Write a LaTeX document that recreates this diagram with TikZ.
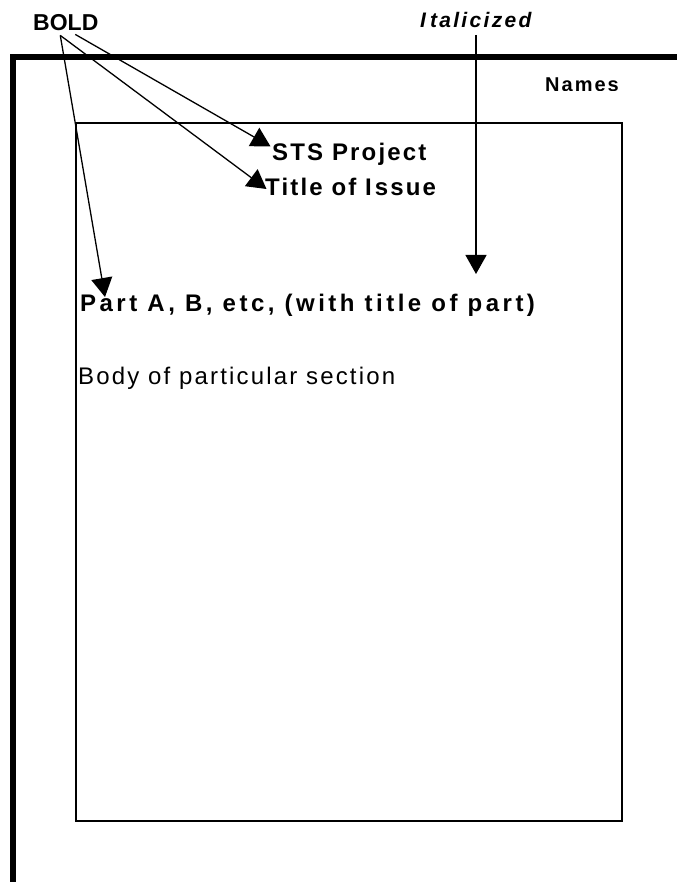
\documentclass[tikz,border=0pt]{standalone}
\usepackage{fontspec}
\setmainfont{Liberation Sans}
\newfontfamily\spacedfont[LetterSpace=9]{Liberation Sans}
\newfontfamily\partfont[LetterSpace=14.5]{Liberation Sans}
\newfontfamily\labelfont[LetterSpace=11]{Liberation Sans}
\newfontfamily\namesfont[LetterSpace=10]{Liberation Sans}
\usetikzlibrary{arrows.meta}
\tikzset{
    frame/.style={line width=6pt, line join=miter},
    sheet/.style={line width=1.5pt},
    pointer/.style={line width=1.3pt, -{Triangle[length=19pt,width=21pt]}},
    txt/.style={inner sep=0pt, anchor=base west},
    heading/.style={txt, font=\spacedfont\bfseries\fontsize{24}{28}\selectfont},
}
\begin{document}
\begin{tikzpicture}[x=1pt, y=-1pt]
    \useasboundingbox (0,0) rectangle (677,882);
    \draw[frame] (12.5,882) -- (12.5,57) -- (677,57);
    \draw[sheet] (76,123) rectangle (622,821);
    \node[txt, font=\bfseries\fontsize{23}{27}\selectfont] (bold) at (33,31) {BOLD};
    \node[txt, font=\labelfont\bfseries\itshape\fontsize{21}{25}\selectfont] (italic) at (420,28) {I\kern4pt talicized};
    \begin{scope}
        \clip (540,60) rectangle (640,90.5);
        \node[txt, font=\namesfont\bfseries\fontsize{20}{24}\selectfont] (names) at (545,92) {Names};
    \end{scope}
    \node[heading] (sts) at (272,161) {STS Project};
    \node[heading] (title) at (265,196) {Title of I\kern3pt ssue};
    \node[heading, font=\partfont\bfseries\fontsize{24}{28}\selectfont] (part) at (80,311) {Part A, B, etc, (with title of part)};
    \node[txt, font=\spacedfont\fontsize{24}{28}\selectfont] (body) at (78,384) {Body of particular section};
    \draw[pointer] ([shift={(9.5,3)}]bold.south) -- ([shift={(-1.5,3)}]sts.north west);
    \draw[pointer] ([shift={(-5.5,4)}]bold.south) -- ([shift={(1.5,-7)}]title.base west);
    \draw[pointer] ([shift={(-5.5,4)}]bold.south) -- ([shift={(25,-14)}]part.base west);
    \draw[pointer] ([shift={(56,7)}]italic.base west) -- ++(0,239);
\end{tikzpicture}
\end{document}
